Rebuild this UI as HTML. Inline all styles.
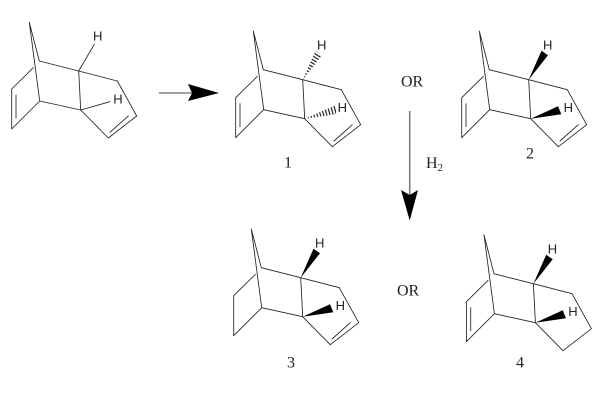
<!DOCTYPE html>
<html>
<head>
<meta charset="utf-8">
<style>
html,body{margin:0;padding:0;background:#fff;width:605px;height:404px;overflow:hidden}
svg{display:block}
.b{stroke:#222;stroke-width:.85;fill:none;stroke-linecap:round;stroke-linejoin:round}
.h{font-family:"Liberation Sans",Arial,sans-serif;font-size:13px;fill:#222;text-anchor:middle}
.t{font-family:"Liberation Serif","Times New Roman",serif;font-size:16px;fill:#222}
</style>
</head>
<body>
<svg width="605" height="404" viewBox="0 0 605 404" xmlns="http://www.w3.org/2000/svg">
<defs>
<g id="core" class="b">
<path d="M29.3 22.3L39.3 61M29.3 22.3L39.7 101M39.3 61L78.7 71L78.7 71L80.7 110L39.7 101L11.7 129L11.7 89L33.3 67.7M78.7 71L117.3 81"/>
<path d="M80.7 110L108.3 138"/>
</g>
<clipPath id="hu"><polygon points="78.7,71 91.5,42 98,46.5"/></clipPath>
<clipPath id="hl"><polygon points="80.7,110 112.7,96 112,105.5"/></clipPath>
</defs>

<!-- starting material -->
<g>
<use href="#core"/>
<path class="b" d="M16 95V118M117.3 81L136.7 116L108.3 138M110 132.3L128.3 116"/>
<path class="b" d="M78.7 71L94.3 44.3M80.7 110L110 101.7"/>
<text class="h" x="97.7" y="40.7">H</text>
<text class="h" x="118" y="103.5">H</text>
</g>

<!-- 1 -->
<g transform="translate(224 8.7)">
<use href="#core"/>
<path class="b" d="M16 95V118M117.3 81L136.7 116L108.3 138M110 132.3L128.3 116"/>
<g clip-path="url(#hu)"><line x1="78.7" y1="71" x2="96" y2="43" stroke="#222" stroke-width="14" stroke-dasharray="1.2 1.9"/></g>
<g clip-path="url(#hl)"><line x1="80.7" y1="110" x2="113" y2="100.8" stroke="#222" stroke-width="14" stroke-dasharray="1.2 1.9"/></g>
<text class="h" x="97.7" y="40.7">H</text>
<text class="h" x="118.3" y="103.5">H</text>
</g>

<!-- 2 -->
<g transform="translate(450 8.7)">
<use href="#core"/>
<path class="b" d="M16 95V118M117.3 81L136.7 116L108.3 138M110 132.3L128.3 116"/>
<polygon points="78.7,71 91.5,42 98,46.5" fill="#000"/>
<polygon points="80.7,110 108,97.5 111.3,105.5" fill="#000"/>
<text class="h" x="97.7" y="40.7">H</text>
<text class="h" x="118.3" y="103.5">H</text>
</g>

<!-- 3 -->
<g transform="translate(222 206.7)">
<use href="#core"/>
<path class="b" d="M117.3 81L136.7 116L108.3 138M110 132.3L128.3 116"/>
<polygon points="78.7,71 91.5,42 98,46.5" fill="#000"/>
<polygon points="80.7,110 108,97.5 111.3,105.5" fill="#000"/>
<text class="h" x="97.7" y="40.7">H</text>
<text class="h" x="118.3" y="103.5">H</text>
</g>

<!-- 4 -->
<g transform="translate(454.7 212.7)">
<use href="#core"/>
<path class="b" d="M16 95V118M117.3 81L136.7 116L108.3 138"/>
<polygon points="78.7,71 91.5,42 98,46.5" fill="#000"/>
<polygon points="80.7,110 108,97.5 111.3,105.5" fill="#000"/>
<text class="h" x="97.7" y="40.7">H</text>
<text class="h" x="118.3" y="103.5">H</text>
</g>

<!-- arrows -->
<line x1="159" y1="93" x2="192" y2="93" stroke="#666" stroke-width="1.3"/>
<polygon points="188,84 219,93 188,101 192,93" fill="#000"/>
<line x1="409.7" y1="111" x2="409.7" y2="195" stroke="#777" stroke-width="1.5"/>
<polygon points="401,190 409.7,220.5 418,190 409.7,195" fill="#000"/>

<!-- labels -->
<text class="t" x="401" y="86.7">OR</text>
<text class="t" x="397" y="295.7">OR</text>
<text class="t" x="426" y="168">H<tspan font-size="10.5" dy="3">2</tspan></text>
<text class="t" x="288" y="167.7" text-anchor="middle">1</text>
<text class="t" x="530" y="158.7" text-anchor="middle">2</text>
<text class="t" x="291" y="367.7" text-anchor="middle">3</text>
<text class="t" x="520" y="367.7" text-anchor="middle">4</text>
</svg>
</body>
</html>
